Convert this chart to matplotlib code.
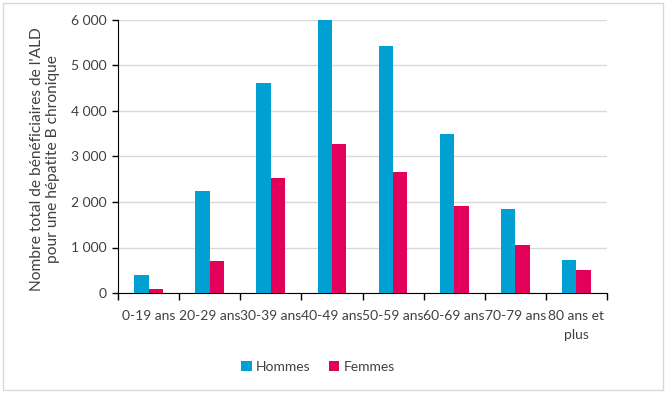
import matplotlib.pyplot as plt
import matplotlib as mpl
import numpy as np
from matplotlib.ticker import FuncFormatter, MultipleLocator

plt.rcParams['font.family'] = ['Lato', 'DejaVu Sans']
plt.rcParams['font.size'] = 10

categories = ['0-19 ans', '20-29 ans', '30-39 ans', '40-49 ans', '50-59 ans',
              '60-69 ans', '70-79 ans', '80 ans et\nplus']
hommes = [400, 2250, 4620, 5990, 5435, 3500, 1850, 730]
femmes = [95, 710, 2535, 3280, 2665, 1920, 1060, 512]

c_h = '#00A0D3'
c_f = '#E2005A'
txt = '#404040'

fig = plt.figure(figsize=(6.67, 3.93), dpi=100)
ax = fig.add_axes([118/667, 1-293/393, 489/667, 273/393])

x = np.arange(len(categories))
w = 0.235
ax.bar(x - w/2, hommes, w, color=c_h, label='Hommes', zorder=3)
ax.bar(x + w/2, femmes, w, color=c_f, label='Femmes', zorder=3)

ax.set_xlim(-0.5, len(categories) - 0.5)
ax.set_ylim(0, 6000)
ax.yaxis.set_major_locator(MultipleLocator(1000))
ax.yaxis.set_major_formatter(FuncFormatter(lambda v, p: f'{int(v):,}'.replace(',', ' ')))
ax.grid(axis='y', color='#D9D9D9', linewidth=1, zorder=0)

ax.set_xticks(np.arange(-0.5, len(categories), 1))
ax.set_xticklabels([])
ax.set_xticks(x, minor=True)
ax.set_xticklabels(categories, minor=True, color=txt, fontsize=10, linespacing=1.75)
ax.tick_params(axis='x', which='major', length=5, width=1, color='black', direction='out')
ax.tick_params(axis='x', which='minor', length=0, pad=12)
ax.tick_params(axis='y', length=4, width=1, color='black', labelcolor=txt, labelsize=10, pad=4)

for s in ['top', 'right']:
    ax.spines[s].set_visible(False)
ax.spines['left'].set_color('black')
ax.spines['bottom'].set_color('black')

ax.set_ylabel("Nombre total de bénéficiaires de l'ALD\npour une hépatite B chronique",
              color=txt, fontsize=11.2, linespacing=1.15)
ax.yaxis.set_label_coords(-58/489, 0.49)

fig.legend(loc='center', bbox_to_anchor=(318/667, 1-367/393), ncol=2, frameon=False,
           handlelength=0.75, handleheight=0.75, handletextpad=0.3, columnspacing=1.3,
           labelcolor=txt, fontsize=10)

fig.patches.append(mpl.patches.Rectangle((3/667, 3/393), 660/667, 387/393,
                                         transform=fig.transFigure, fill=False,
                                         edgecolor='#D9D9D9', linewidth=1))

plt.savefig('out.png', dpi=100)
